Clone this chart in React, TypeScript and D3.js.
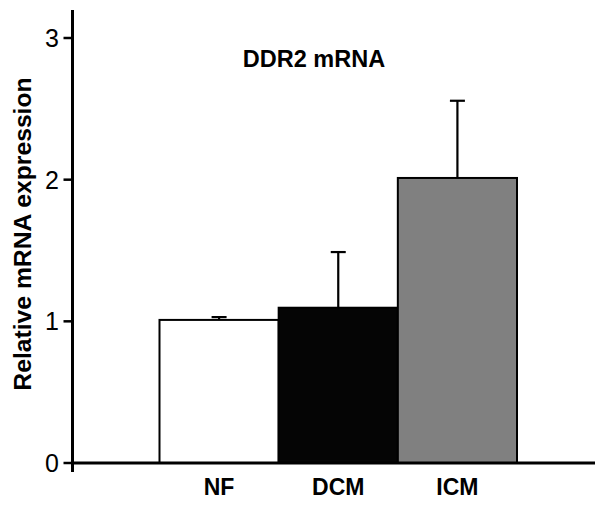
import React from "react";
import * as d3 from "d3";

// values
const groups = ["NF", "DCM", "ICM"];
const means = [1.01, 1.096, 2.012];
const errors = [0.02, 0.393, 0.545];
const fills = ["#ffffff", "#050505", "#808080"];
const yTicks = [0, 1, 2, 3];

const WIDTH = 595;
const HEIGHT = 505;
const FONT = "'Liberation Sans', Arial, Helvetica, sans-serif";

const App = () => {
  const y = d3.scaleLinear().domain([0, 3]).range([463, 38]);
  const x = d3.scaleBand().domain(groups).range([159.5, 517]).padding(0);
  const axisX = 72.5;
  const capHalf = 7.5;

  return (
    <svg
      width={WIDTH}
      height={HEIGHT}
      style={{ position: "absolute", left: 0, top: 0, background: "#fff" }}
      fontFamily={FONT}
    >
      {/* bars */}
      {groups.map((g, i) => {
        const x0 = x(g) ?? 0;
        const cx = x0 + x.bandwidth() / 2;
        const top = y(means[i]);
        const errTop = y(means[i] + errors[i]);
        return (
          <g key={g}>
            <line x1={cx} x2={cx} y1={top} y2={errTop} stroke="#000" strokeWidth={2.2} />
            <line x1={cx - capHalf} x2={cx + capHalf} y1={errTop} y2={errTop} stroke="#000" strokeWidth={2.2} />
            <rect
              x={x0}
              y={top}
              width={x.bandwidth()}
              height={y(0) - top}
              fill={fills[i]}
              stroke="#000"
              strokeWidth={2}
            />
            <text
              x={cx}
              y={495}
              textAnchor="middle"
              fontSize={23}
              fontWeight="bold"
            >
              {g}
            </text>
          </g>
        );
      })}

      {/* axes */}
      <line x1={axisX} x2={WIDTH} y1={y(0)} y2={y(0)} stroke="#000" strokeWidth={3} />
      <line x1={axisX} x2={axisX} y1={10} y2={472} stroke="#000" strokeWidth={3} />
      {yTicks.map((t) => (
        <g key={t}>
          <line x1={axisX - 9} x2={axisX} y1={y(t)} y2={y(t)} stroke="#000" strokeWidth={2.5} />
          <text x={59} y={y(t)} dy="0.36em" textAnchor="end" fontSize={25}>
            {t}
          </text>
        </g>
      ))}

      <text
        transform={`translate(30.5,234) rotate(-90)`}
        textAnchor="middle"
        fontSize={24.7}
        fontWeight="bold"
      >
        Relative mRNA expression
      </text>

      <text x={314} y={66.5} textAnchor="middle" fontSize={23.5} fontWeight="bold">
        DDR2 mRNA
      </text>
    </svg>
  );
};

export default App;
